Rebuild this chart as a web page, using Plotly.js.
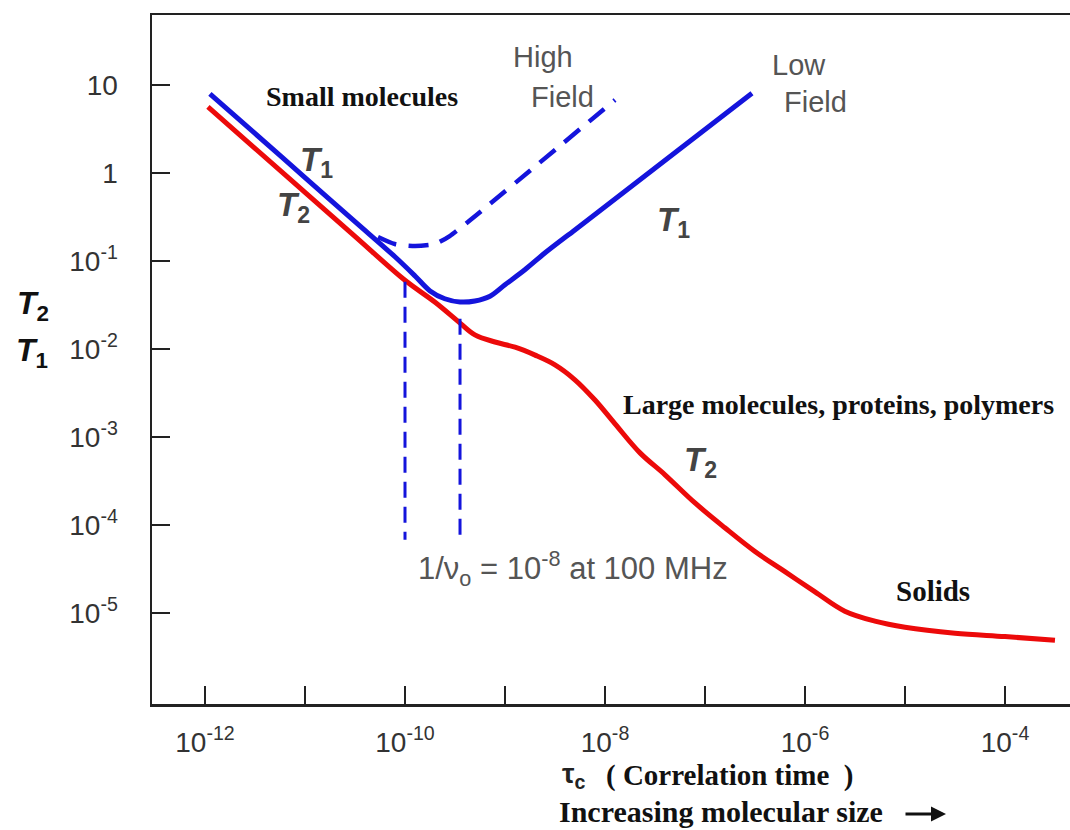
<!DOCTYPE html>
<html>
<head>
<meta charset="utf-8">
<script src="https://cdn.plot.ly/plotly-3.0.1.min.js"></script>
<style>html,body{margin:0;padding:0;background:#fff;}#chart{width:1070px;height:830px;}</style>
</head>
<body>
<div id="chart"></div>
<script>
// ---- data ----
// T2 curve (red)
const t2Tau = [1.07e-12, 3.16e-12, 1e-11, 3.16e-11, 1e-10, 2.0e-10, 3.55e-10, 5.0e-10, 7.94e-10, 1.26e-9, 2.0e-9, 3.16e-9, 5.0e-9, 7.94e-9, 1.26e-8, 2.24e-8, 3.98e-8, 7.94e-8, 1.58e-7, 3.16e-7, 6.3e-7, 1.26e-6, 2.5e-6, 5.0e-6, 1e-5, 3.16e-5, 1e-4, 3.16e-4];
const t2Val = [5.62, 1.905, 0.603, 0.1905, 0.0603, 0.0339, 0.0197, 0.01445, 0.0120, 0.01047, 0.00851, 0.0066, 0.00447, 0.00263, 0.00141, 6.6e-4, 3.72e-4, 1.78e-4, 9.3e-5, 5.0e-5, 2.95e-5, 1.74e-5, 1.05e-5, 8.1e-6, 6.9e-6, 5.9e-6, 5.4e-6, 4.9e-6];
// T1 low field (solid blue)
const t1LowTau = [1.12e-12, 3.16e-12, 1e-11, 3.16e-11, 7.94e-11, 1.26e-10, 1.78e-10, 2.5e-10, 3.55e-10, 5.0e-10, 7.08e-10, 1e-9, 1.58e-9, 2.5e-9, 5.0e-9, 1e-8, 5.0e-8, 2.95e-7];
const t1LowVal = [7.9, 2.81, 0.887, 0.28, 0.1117, 0.0676, 0.0457, 0.0372, 0.0342, 0.0351, 0.0398, 0.0537, 0.0794, 0.123, 0.2255, 0.413, 1.70, 8.07];
// T1 high field (dashed blue)
const t1HighTau = [5.37e-11, 7.9e-11, 1.26e-10, 2.0e-10, 2.8e-10, 4.5e-10, 1.26e-8];
const t1HighVal = [0.1875, 0.156, 0.148, 0.156, 0.192, 0.292, 6.76];
// reference markers 1/nu0
const markTau = [1e-10, 3.55e-10];
const markTop = [0.058, 0.022];
const markBottom = [6.8e-5, 6.8e-5];
// ticks
const xTickVals = [1e-12, 1e-11, 1e-10, 1e-9, 1e-8, 1e-7, 1e-6, 1e-5, 1e-4];
const xTickText = ['10<sup>-12</sup>', '', '10<sup>-10</sup>', '', '10<sup>-8</sup>', '', '10<sup>-6</sup>', '', '10<sup>-4</sup>'];
const yTickVals = [10, 1, 0.1, 0.01, 0.001, 1e-4, 1e-5];
const yTickText = ['10', '1', '10<sup>-1</sup>', '10<sup>-2</sup>', '10<sup>-3</sup>', '10<sup>-4</sup>', '10<sup>-5</sup>'];

// ---- layout helpers ----
const W = 1070, H = 830;
const L = 152, R = 1070, T = 15, B = 704;
const px = x => (x - L) / (R - L);
const py = y => (B - y) / (B - T);

const BLUE = '#1414dc', RED = '#ec0a0a';
const traces = [
  {x: t2Tau, y: t2Val, mode: 'lines', line: {color: RED, width: 5, shape: 'spline', smoothing: 1}, hoverinfo: 'skip'},
  {x: t1LowTau, y: t1LowVal, mode: 'lines', line: {color: BLUE, width: 5, shape: 'spline', smoothing: 0.9}, hoverinfo: 'skip'},
  {x: t1HighTau, y: t1HighVal, mode: 'lines', line: {color: BLUE, width: 4.5, dash: '20px,12px', shape: 'spline', smoothing: 0.6}, hoverinfo: 'skip'}
];
markTau.forEach((t, i) => {
  traces.push({x: [t, t], y: [markTop[i], markBottom[i]], mode: 'lines', line: {color: BLUE, width: 3, dash: '16px,9px'}, hoverinfo: 'skip'});
});

const SERIF = 'Liberation Serif, Times New Roman, serif';
const SANS = 'Liberation Sans, Arial, sans-serif';
const serifB = {family: SERIF, size: 28, color: '#111'};
const sansG = {family: SANS, size: 29, color: '#555'};
const tFont = {family: SANS, size: 33, color: '#444'};
const ann = (text, x, y, font, extra) => Object.assign({text, x: px(x), y: py(y), xref: 'paper', yref: 'paper', showarrow: false, xanchor: 'center', yanchor: 'middle', font}, extra || {});

const annotations = [
  ann('<b>Small molecules</b>', 362, 97, serifB),
  ann('High', 543, 57, sansG),
  ann('Field', 562, 97, sansG),
  ann('Low', 799, 65, sansG),
  ann('Field', 815, 102, sansG),
  ann('<b><i>T</i></b><sub><b>1</b></sub>', 316, 162, tFont),
  ann('<b><i>T</i></b><sub><b>2</b></sub>', 293, 207, tFont),
  ann('<b><i>T</i></b><sub><b>1</b></sub>', 673, 222, tFont),
  ann('<b><i>T</i></b><sub><b>2</b></sub>', 700, 462, tFont),
  ann('<b><i>T</i></b><sub><b>2</b></sub>', 33, 305, Object.assign({}, tFont, {color: '#111', size: 32})),
  ann('<b><i>T</i></b><sub><b>1</b></sub>', 32, 352, Object.assign({}, tFont, {color: '#111', size: 32})),
  ann('1/ν<sub>o</sub> = 10<sup>-8</sup> at 100 MHz', 573, 568, Object.assign({}, sansG, {size: 31})),
  ann('<b>Large molecules, proteins, polymers</b>', 838, 404, serifB),
  ann('<b>Solids</b>', 933, 591, Object.assign({}, serifB, {size: 29})),
  ann('<b>τ</b><sub><b>c</b></sub>', 574, 775, {family: SANS, size: 28, color: '#222'}),
  ann('<b>( Correlation time  )</b>', 730, 775, Object.assign({}, serifB, {size: 29})),
  ann('<b>Increasing molecular size</b>', 721, 811, Object.assign({}, serifB, {size: 30})),
  {text: '', x: px(946), y: py(814), xref: 'paper', yref: 'paper', ax: -42, ay: 0, showarrow: true, arrowhead: 2, arrowsize: 1, arrowwidth: 3, arrowcolor: '#111'}
];

const tickFont = {family: SANS, size: 28, color: '#333'};
const layout = {
  width: W, height: H,
  margin: {l: L, r: W - R, t: T, b: H - B, pad: 0},
  paper_bgcolor: '#fff', plot_bgcolor: '#fff',
  showlegend: false,
  xaxis: {
    type: 'log', range: [-12.53, -3.35],
    tickmode: 'array', tickvals: xTickVals, ticktext: xTickText,
    ticks: 'inside', ticklen: 18, tickwidth: 2, tickcolor: '#222',
    showline: true, linecolor: '#222', linewidth: 2.5, mirror: true,
    showgrid: false, zeroline: false, tickfont: tickFont, ticklabelstandoff: 12
  },
  yaxis: {
    type: 'log', range: [-6.034, 1.795],
    tickmode: 'array', tickvals: yTickVals, ticktext: yTickText,
    ticks: 'inside', ticklen: 18, tickwidth: 2, tickcolor: '#222',
    showline: true, linecolor: '#222', linewidth: 2.5,
    showgrid: false, zeroline: false, tickfont: tickFont, ticklabelstandoff: 26
  },
  annotations
};
Plotly.newPlot('chart', traces, layout, {displayModeBar: false, staticPlot: true});
</script>
</body>
</html>
